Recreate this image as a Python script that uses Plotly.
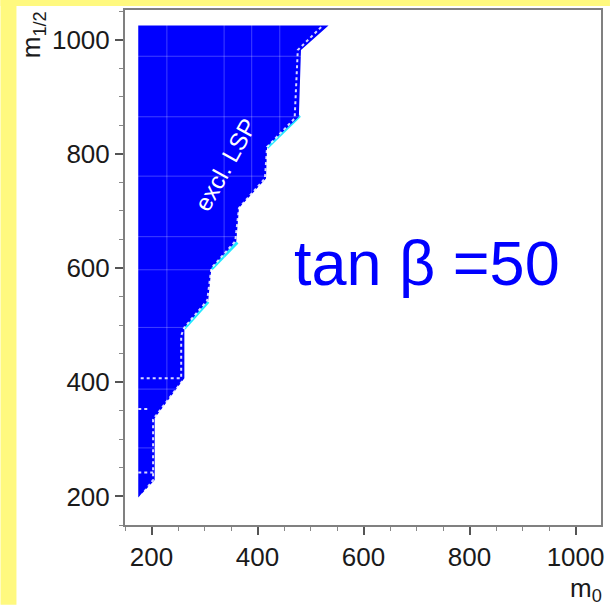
import plotly.graph_objects as go

# Excluded region (LSP) boundary, (m0, m1/2)
excl_m0 = [175, 534, 482, 478, 418, 416, 365, 360, 313, 307, 262, 262, 206, 206, 175, 175]
excl_m12 = [1025, 1025, 982, 865, 813, 757, 705, 647, 600, 543, 496, 407, 337, 229, 198, 1025]

# cyan rim along some diagonal edges of the region
rim_m0 = [480, 418, None, 362, 313, None, 307, 262]
rim_m12 = [867, 811, None, 645, 598, None, 541, 494]

# white dotted contour lines
dot_m0 = [520, 476, 470, 418, 414, 365, 358, 313, 305, 262, 256, 256, 175, None,
          258, 203, 203, 178, None, 175, 206, None, 175, 195]
dot_m12 = [1022, 982, 862, 812, 757, 705, 647, 600, 543, 496, 482, 407, 407, None,
           402, 335, 229, 198, None, 242, 242, None, 353, 353]

# faint scan-grid lines visible inside the excluded region
grid_m0 = [229, 337, 389, 442]
grid_m12 = [971, 865, 761, 655, 597, 496, 388, 285]

x_ticks = [200, 400, 600, 800, 1000]
y_ticks = [200, 400, 600, 800, 1000]
x_range = [150, 1048]
y_range = [150, 1052]

FONT = "Arial, Liberation Sans, sans-serif"
BLUE = "#0000ff"

fig = go.Figure()

fig.add_trace(go.Scatter(x=rim_m0, y=rim_m12, mode="lines",
                         line=dict(width=3, color="#22e6ff"), connectgaps=False,
                         hoverinfo="skip", showlegend=False))

fig.add_trace(go.Scatter(x=excl_m0, y=excl_m12, mode="lines", fill="toself",
                         fillcolor=BLUE, line=dict(width=0, color=BLUE),
                         hoverinfo="skip", showlegend=False))

# faint grid lines (white, translucent -> invisible on white background)
gx, gy = [], []
for v in grid_m0:
    gx += [v, v, None]
    gy += [y_range[0], y_range[1], None]
for v in grid_m12:
    gx += [x_range[0], x_range[1], None]
    gy += [v, v, None]
fig.add_trace(go.Scatter(x=gx, y=gy, mode="lines",
                         line=dict(width=1, color="rgba(255,255,255,0.25)"),
                         hoverinfo="skip", showlegend=False))

fig.add_trace(go.Scatter(x=dot_m0, y=dot_m12, mode="lines",
                         line=dict(width=2, color="rgba(255,255,255,0.85)", dash="dot"),
                         connectgaps=False, hoverinfo="skip", showlegend=False))

axis_common = dict(
    showgrid=False, zeroline=False, showline=True, linecolor="#808080",
    linewidth=2, mirror=True, ticks="outside", ticklen=8, tickwidth=1.5,
    tickcolor="#555", tickfont=dict(family=FONT, size=26, color="#1a1a1a"),
    minor=dict(ticks="outside", ticklen=4, dtick=50, tickcolor="#888", tickwidth=1),
)

fig.update_xaxes(range=x_range, tickvals=x_ticks, **axis_common)
fig.update_yaxes(range=y_range, tickvals=y_ticks, **axis_common)

fig.add_annotation(x=340, y=781, xref="x", yref="y", text="excl. LSP",
                   textangle=-61, showarrow=False,
                   font=dict(family=FONT, size=24, color="white"))

fig.add_annotation(x=719, y=609, xref="x", yref="y", text="tan β =50",
                   showarrow=False, font=dict(family=FONT, size=63, color=BLUE))

fig.add_annotation(x=(588 - 125) / 478, y=(525 - 590) / 517, xref="paper", yref="paper",
                   xanchor="center", yanchor="middle",
                   text="m<sub>0</sub>", showarrow=False,
                   font=dict(family=FONT, size=26, color="#1a1a1a"))

fig.add_annotation(x=(33 - 125) / 478, y=(525 - 33) / 517, xref="paper", yref="paper",
                   xanchor="center", yanchor="middle",
                   text="m<sub>1/2</sub>", textangle=-90, showarrow=False,
                   font=dict(family=FONT, size=26, color="#1a1a1a"))

YELLOW = "#fff97f"
# yellow strips at left and top of the page
fig.add_shape(type="rect", xref="paper", yref="paper",
              x0=-125 / 478, x1=(16 - 125) / 478, y0=-80 / 517, y1=530 / 517,
              fillcolor=YELLOW, line=dict(width=0), layer="below")
fig.add_shape(type="rect", xref="paper", yref="paper",
              x0=-125 / 478, x1=487 / 478, y0=(525 - 4) / 517, y1=530 / 517,
              fillcolor=YELLOW, line=dict(width=0), layer="below")

fig.update_layout(
    width=612, height=605,
    margin=dict(l=125, r=9, t=8, b=80),
    paper_bgcolor="white", plot_bgcolor="white",
    showlegend=False,
)

fig.write_html("out.html")
